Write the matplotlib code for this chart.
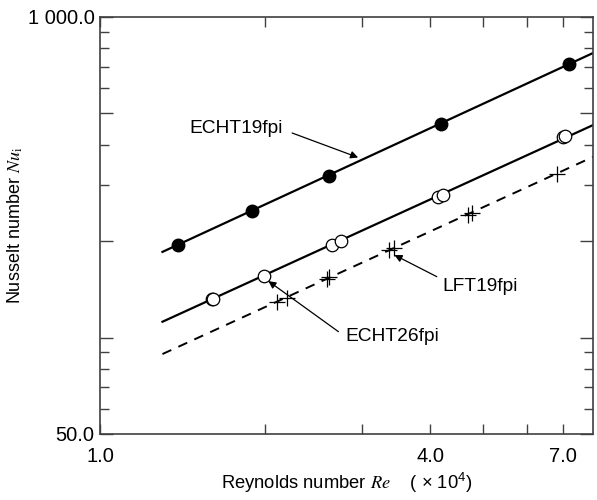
import matplotlib
matplotlib.use("Agg")
import matplotlib.pyplot as plt
from matplotlib.ticker import FixedLocator, FixedFormatter, NullFormatter

plt.rcParams["font.family"] = ["Liberation Sans", "DejaVu Sans"]
plt.rcParams["mathtext.fontset"] = "stix"

# ECHT19fpi (filled circles)
re_echt19 = [1.39, 1.89, 2.62, 4.18, 7.17]
nu_echt19 = [195, 248, 319, 464, 713]

# ECHT26fpi (open circles)
re_echt26 = [1.60, 1.61, 1.99, 2.65, 2.75, 4.14, 4.22, 6.99, 7.04]
nu_echt26 = [132, 132, 156, 194, 200, 275, 278, 421, 426]

# LFT19fpi (plus markers)
re_lft19 = [2.10, 2.19, 2.59, 2.62, 3.37, 3.44, 4.70, 4.77, 6.81]
nu_lft19 = [129, 133, 152, 154, 187, 190, 241, 244, 324]

# fitted correlation lines (endpoints)
fit_re = [1.30, 7.93]
fit_echt19 = [185, 772]
fit_echt26 = [112, 460]
fit_lft19 = [88.8, 366]

fig = plt.figure(figsize=(5.97, 5.0), dpi=100)
ax = fig.add_axes([0.1675, 0.132, 0.8258, 0.834])

ax.plot(fit_re, fit_echt19, color="black", lw=1.6)
ax.plot(fit_re, fit_echt26, color="black", lw=1.6)
ax.plot(fit_re, fit_lft19, color="black", lw=1.4, dashes=(5, 4))

ax.plot(re_echt19, nu_echt19, "o", ms=9, mfc="black", mec="black", zorder=3)
ax.plot(re_echt26, nu_echt26, "o", ms=9, mfc="white", mec="black", mew=0.9, zorder=3)
ax.plot(re_lft19, nu_lft19, "+", ms=12, color="black", mew=0.9, zorder=3)

ax.set_xscale("log")
ax.set_yscale("log")
ax.set_xlim(1.0, 7.93)
ax.set_ylim(50, 1000)

ax.xaxis.set_major_locator(FixedLocator([1, 2, 3, 4, 5, 6, 7]))
ax.xaxis.set_major_formatter(FixedFormatter(["1.0", "", "", "4.0", "", "", "7.0"]))
ax.xaxis.set_minor_locator(FixedLocator([]))
ax.xaxis.set_minor_formatter(NullFormatter())

ax.yaxis.set_major_locator(FixedLocator([50, 100, 200, 500, 1000]))
ax.yaxis.set_major_formatter(FixedFormatter(["50.0", "", "", "", "1 000.0"]))
ax.yaxis.set_minor_locator(FixedLocator([60, 70, 80, 90, 300, 400, 600, 700, 800, 900]))
ax.yaxis.set_minor_formatter(NullFormatter())

ax.tick_params(axis="x", which="major", direction="in", length=7.5, width=1.0,
               top=True, pad=9, labelsize=14.5, color="#404040")
ax.tick_params(axis="y", which="major", direction="in", length=9.5, width=1.0,
               right=True, pad=4, labelsize=14.5, color="#404040")
ax.tick_params(axis="y", which="minor", direction="in", length=6.5, width=1.0,
               right=True, color="#404040")

for sp in ax.spines.values():
    sp.set_color("#404040")
    sp.set_linewidth(1.2)

ax.set_xlabel("Reynolds number $Re$    ( × 10$\\mathregular{^4}$)", fontsize=13.2, labelpad=4)
ax.set_ylabel("Nusselt number $Nu_{\\mathrm{i}}$", fontsize=13, labelpad=2)

arrow = dict(arrowstyle="-|>", color="black", lw=0.9, mutation_scale=11,
             shrinkA=0, shrinkB=0)
ax.annotate("", xy=(2.957, 364.5), xytext=(2.241, 434.6), arrowprops=arrow)
ax.text(2.158, 450, "ECHT19fpi", ha="right", va="center", fontsize=13.8)

ax.annotate("", xy=(3.444, 180.9), xytext=(4.115, 154.8), arrowprops=arrow)
ax.text(4.22, 144, "LFT19fpi", ha="left", va="center", fontsize=13.8)

ax.annotate("", xy=(2.028, 150), xytext=(2.722, 104.3), arrowprops=arrow)
ax.text(2.80, 101, "ECHT26fpi", ha="left", va="center", fontsize=13.8)

fig.savefig("out.png", dpi=100)
